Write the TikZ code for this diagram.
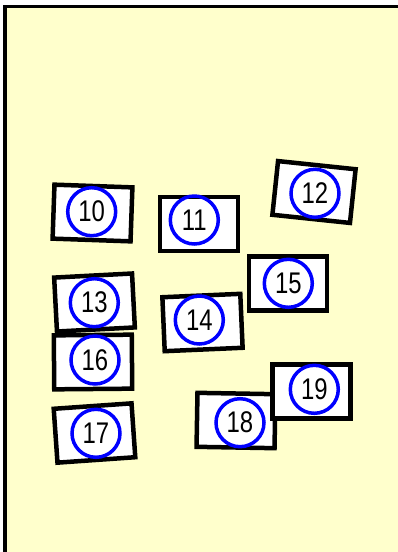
\documentclass[tikz,border=0pt]{standalone}
\usepackage{fontspec}
\newfontfamily\numfont[FakeStretch=0.8]{Liberation Sans}
\usetikzlibrary{positioning}
\definecolor{sheet}{HTML}{FFFFCC}

\begin{document}
\begin{tikzpicture}[
    x=0.02cm, y=-0.02cm,
    card/.style={draw, fill=white, line width=0.09cm, minimum width=1.56cm, minimum height=1.08cm, inner sep=0pt},
    tag/.style={draw=blue, circle, line width=0.07cm, minimum size=0.96cm, inner sep=0pt, font=\numfont\fontsize{17}{17}\selectfont}
]
\useasboundingbox (0,0) rectangle (398,552);
\clip (0,0) rectangle (398,552);
\draw[fill=sheet, line width=0.07cm] (5,6.5) rectangle (420,580);

\node[card, rotate=-2] (c10) at (92.5,213) {};
\node[tag] (n10) at (91.7,211.7) {10};
\node[card] (c11) at (199,224) {};
\node[tag] (n11) at (194.3,220) {11};
\node[card, rotate=-6] (c12) at (314,192) {};
\node[tag] (n12) at (315,193.3) {12};
\node[card, rotate=3] (c13) at (94.5,302.5) {};
\node[tag] (n13) at (94.3,302.7) {13};
\node[card, rotate=2.5] (c14) at (202.5,322.5) {};
\node[tag] (n14) at (199.3,320) {14};
\node[card] (c15) at (288,283.7) {};
\node[tag] (n15) at (288.3,283.3) {15};
\node[card, rotate=0.5] (c16) at (93,362) {};
\node[tag] (n16) at (95,360) {16};
\node[card, rotate=4] (c17) at (94.5,433) {};
\node[tag] (n17) at (96,433.3) {17};
\node[card, rotate=-1] (c18) at (236,420.5) {};
\node[tag] (n18) at (240,422.7) {18};
\node[card] (c19) at (311.7,391.5) {};
\node[tag] (n19) at (314.3,389.3) {19};
\end{tikzpicture}
\end{document}
